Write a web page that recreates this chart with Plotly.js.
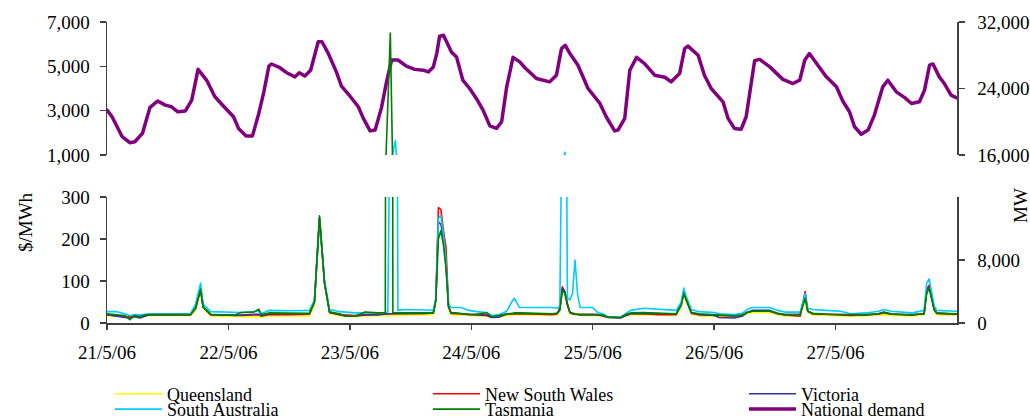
<!DOCTYPE html>
<html>
<head>
<meta charset="utf-8">
<script src="https://cdn.plot.ly/plotly-3.0.1.min.js"></script>
<style>html,body{margin:0;padding:0;background:#fff;}#chart{width:1030px;height:419px;}
#chart .scatterlayer path.js-line{stroke-linejoin:round;stroke-linecap:round;}</style>
</head>
<body>
<div id="chart"></div>
<script>
// ---------- data (hours after 21/5/06 00:00) ----------
const dateLabels = ['21/5/06','22/5/06','23/5/06','24/5/06','25/5/06','26/5/06','27/5/06'];
const dateTicks = ['2006-05-21','2006-05-22','2006-05-23','2006-05-24','2006-05-25','2006-05-26','2006-05-27'];

const demandHours = [0,1,3,4.5,5.5,7,8.5,10,11.5,12.75,14,15.5,16.75,18,19.75,21.33,23,25,26,27.5,28.75,30,31,32,32.5,34.17,35.5,37.17,38,39.1,40.25,41.75,42.5,43.75,45.33,46.33,48,49.67,50.67,52,53,54.25,55.25,56.25,57.5,59.17,60.83,62.5,63.5,64.5,65.17,65.75,66.5,68.08,69.08,70.33,71.67,73,74.33,75.67,77,78,79,80.25,81.58,82.6,84.88,87.5,88.83,89.83,90.58,91.5,93.08,95.08,97.42,98.67,100.33,101,102.33,103.33,104.67,106.25,108.25,110.25,111.5,113.17,114.17,114.83,116.83,118.08,119.42,121.75,122.75,124,125.33,126.33,128,129,131,132.58,133.58,135.58,136.92,137.92,138.83,140.5,142.17,144.17,145.42,146.75,147.75,149.08,150.42,151.67,153.33,154.33,156,157.67,159,160.58,161.58,162.58,163.25,164.5,165.5,166.83,167.83];
const nationalDemand = [21400,20600,18200,17480,17600,18600,21740,22500,22000,21800,21200,21300,22600,26300,24940,23000,21900,20600,19200,18300,18300,21000,23600,26700,26950,26500,25900,25400,25900,25500,26200,29630,29630,28200,26000,24300,23100,21800,20400,18900,19000,21700,24800,27430,27430,26700,26300,26200,26000,26600,28200,30300,30400,28400,27800,25000,24000,22800,21400,19500,19200,20000,24200,27750,27200,26500,25200,24800,25600,28800,29200,28200,26800,24000,22200,20600,18900,19000,20400,26200,27750,27000,25600,25350,24800,25800,28800,29100,28000,25600,24000,22400,20400,19200,19100,20600,27350,27500,26600,25750,25100,24600,25000,27430,28200,26800,25400,24200,22500,21200,19400,18500,19000,20800,24200,25000,23600,22900,22200,22400,23800,26800,26950,25400,24600,23200,22900];

const priceHours = [0,2,3.5,4.5,5.5,6.5,7.5,8.5,16.5,17.5,18.5,19,20.5,24,25.5,26.5,29,30,30.5,32,36,40,41,42,43,44,46,47,49,51,53.5,55,55.5,56,56.5,57,57.5,59,63,64.5,65,65.5,66,66.5,67,67.5,68,70,71.5,73,75,76,77.5,79,80,80.5,81.5,88,89,89.5,90,90.5,91,91.5,92,92.5,93,93.5,96,97,98,99,101.5,102.5,103.5,106,109,112.5,113.5,114,114.5,115.5,117,120,121,124,125.5,126.5,127.5,131,132.5,134,137,138,138.5,139.5,142,145,147,150,152.5,153.5,155,159,161.5,162,162.5,163,163.5,164,168];
const queensland = [17,17,16,15,17,16,17,18,18,30,75,35,17,16,15,15,15,15,14,17,17,17,40,240,90,22,17,16,15,17,17,18,18,18,18,18,18,18,19,20,50,250,255,210,150,35,20,19,17,17,16,14,15,18,19,19,19,18,20,30,78,70,40,22,20,19,19,18,18,18,16,13,13,16,19,19,18,18,40,68,50,22,17,17,16,15,17,22,25,25,20,17,17,55,25,19,18,17,16,17,18,20,18,17,20,70,82,55,30,20,18];
const newSouthWales = [19,18,17,15,18,17,18,19,19,35,80,38,20,18,17,18,19,19,17,20,20,21,50,250,95,25,20,19,18,20,20,22,22,22,22,22,22,22,23,24,55,275,270,220,180,40,23,22,20,21,20,16,18,22,23,23,23,20,22,35,86,75,45,25,22,21,20,20,20,20,17,14,13,18,22,22,20,20,45,75,55,23,20,19,18,17,19,25,28,28,22,19,16,75,28,22,20,19,18,19,21,24,21,19,22,80,90,60,32,23,21];
const victoria = [20,15,13,12,15,12,16,20,20,35,82,38,20,18,18,19,20,21,17,22,22,22,50,250,95,25,20,17,16,19,20,22,22,22,22,22,23,23,23,24,55,240,235,200,140,40,24,22,20,19,18,13,14,21,22,22,22,21,22,35,82,72,43,25,23,22,21,20,20,20,18,13,12,18,22,23,22,22,45,75,55,25,20,18,13,12,16,25,30,30,23,20,20,65,28,22,21,20,19,19,22,26,22,19,22,75,85,58,32,24,21];
const southAustralia = [27,27,22,18,20,19,21,22,22,45,95,45,27,26,25,25,27,28,22,30,29,30,55,250,100,32,27,26,24,24,24,25,26,null,null,1650,30,32,31,30,60,250,255,210,150,45,37,37,30,27,25,18,20,28,50,59,37,37,35,40,null,1120,60,55,70,150,70,37,37,25,22,15,14,22,30,35,32,30,50,83,62,32,27,25,22,20,23,32,37,37,30,26,26,70,35,32,30,28,22,24,28,32,28,24,30,95,105,70,40,30,28];
const tasmania = [22,20,18,8,18,14,19,20,20,35,80,38,21,19,20,25,26,33,20,24,23,23,50,255,95,27,22,17,16,26,24,25,null,6500,25,24,24,24,24,24,55,200,220,185,130,38,25,22,21,20,25,15,18,22,24,24,24,22,24,30,79,70,45,25,22,21,21,20,20,20,19,14,13,20,24,25,23,22,42,71,55,25,22,20,18,17,19,25,28,28,23,20,21,59,28,23,21,20,20,20,22,25,21,20,22,70,83,55,32,23,22];

const regionNames = ['Queensland','New South Wales','Victoria','South Australia','Tasmania'];
const regionColors = ['#FFFF00','#FF0000','#333399','#00CCFF','#008000'];
const priceSeries = [queensland, newSouthWales, victoria, southAustralia, tasmania];
const legendIds = ['legend','legend2','legend3','legend4','legend5','legend6'];

// ---------- helpers ----------
const base = Date.UTC(2006, 4, 21);
const toTime = h => new Date(base + h * 3600000).toISOString().slice(0, 19).replace('T', ' ');
const priceT = priceHours.map(toTime);
const demandT = demandHours.map(toTime);

const FONT = 'Liberation Serif, Times New Roman, serif';
const AX = '#404040';

const traces = [];
priceSeries.forEach((vals, i) => {
  traces.push({
    x: priceT, y: vals, xaxis: 'x', yaxis: 'y', type: 'scatter', mode: 'lines',
    name: regionNames[i], legend: legendIds[i],
    line: {color: regionColors[i], width: 1.6}, connectgaps: true, hoverinfo: 'skip'
  });
});
priceSeries.forEach((vals, i) => {
  traces.push({
    x: priceT, y: vals, xaxis: 'x2', yaxis: 'y3', type: 'scatter', mode: 'lines',
    name: regionNames[i], showlegend: false,
    line: {color: regionColors[i], width: 1.6}, connectgaps: true, hoverinfo: 'skip'
  });
});
traces.push({
  x: demandT, y: nationalDemand, xaxis: 'x2', yaxis: 'y4', type: 'scatter', mode: 'lines',
  name: 'National demand', legend: legendIds[5],
  line: {color: '#800080', width: 3.5}, hoverinfo: 'skip'
});
traces.push({
  x: demandT, y: nationalDemand, xaxis: 'x', yaxis: 'y2', type: 'scatter', mode: 'lines',
  name: 'National demand', showlegend: false,
  line: {color: '#800080', width: 3.5}, hoverinfo: 'skip'
});

const tickfont = {family: FONT, size: 19, color: '#000'};
const yCommon = {
  showline: true, linecolor: AX, linewidth: 1.5, ticks: 'outside', ticklen: 6, tickcolor: AX, tickwidth: 1.5,
  showgrid: false, zeroline: false, tickfont: tickfont, tickformat: ',d', fixedrange: true, ticklabelstandoff: 6
};
const xRange = ['2006-05-21 00:00:00', '2006-05-28 00:00:00'];
const botDom = [0, 126 / 301];
const topDom = [168 / 301, 1];

// legend columns / rows (paper coords)
const legCols = [0.0035, 0.3776, 0.7494];
const legRows = [-0.236, -0.287];
function mkLegend(col, row) {
  return {
    orientation: 'h', x: legCols[col], xanchor: 'left', y: legRows[row], yanchor: 'middle',
    bgcolor: 'rgba(0,0,0,0)', borderwidth: 0, font: {family: FONT, size: 18, color: '#000'},
    itemwidth: 47, tracegroupgap: 0
  };
}

const layout = {
  width: 1030, height: 419,
  margin: {l: 107, r: 73, t: 22, b: 96, pad: 0, autoexpand: false},
  paper_bgcolor: '#fff', plot_bgcolor: 'rgba(0,0,0,0)',
  font: {family: FONT, size: 19, color: '#000'},
  xaxis: {
    type: 'date', range: xRange, domain: [0, 1], anchor: 'y',
    tickvals: dateTicks, ticktext: dateLabels,
    showline: true, linecolor: AX, linewidth: 1.5, ticks: 'outside', ticklen: 5, tickcolor: AX, tickwidth: 1.5,
    showgrid: false, zeroline: false, tickfont: tickfont, ticklabelstandoff: 7, fixedrange: true
  },
  xaxis2: {type: 'date', range: xRange, domain: [0, 1], anchor: 'y4', matches: 'x', visible: false},
  yaxis: Object.assign({}, yCommon, {domain: botDom, anchor: 'x', range: [0, 300], tickvals: [0, 100, 200, 300]}),
  yaxis2: Object.assign({}, yCommon, {overlaying: 'y', side: 'right', anchor: 'x', range: [0, 16000], tickvals: [0, 8000], ticklabelstandoff: 9}),
  yaxis4: Object.assign({}, yCommon, {domain: topDom, anchor: 'x2', side: 'right', range: [16000, 32000], tickvals: [16000, 24000, 32000], ticklabelstandoff: 9}),
  yaxis3: Object.assign({}, yCommon, {overlaying: 'y4', anchor: 'x2', side: 'left', range: [1000, 7000], tickvals: [1000, 3000, 5000, 7000]}),
  legend: mkLegend(0, 0),
  legend2: mkLegend(1, 0),
  legend3: mkLegend(2, 0),
  legend4: mkLegend(0, 1),
  legend5: mkLegend(1, 1),
  legend6: mkLegend(2, 1),
  annotations: [
    {text: '$/MWh', xref: 'paper', yref: 'paper', x: -0.0965, y: 0.3355, textangle: -90,
     showarrow: false, font: {family: FONT, size: 19, color: '#000'}, xanchor: 'center', yanchor: 'middle'},
    {text: 'MW', xref: 'paper', yref: 'paper', x: 1.074, y: 0.392, textangle: -90,
     showarrow: false, font: {family: FONT, size: 19, color: '#000'}, xanchor: 'center', yanchor: 'middle'}
  ],
  showlegend: true
};

Plotly.newPlot('chart', traces, layout, {staticPlot: true, displayModeBar: false});
</script>
</body>
</html>
